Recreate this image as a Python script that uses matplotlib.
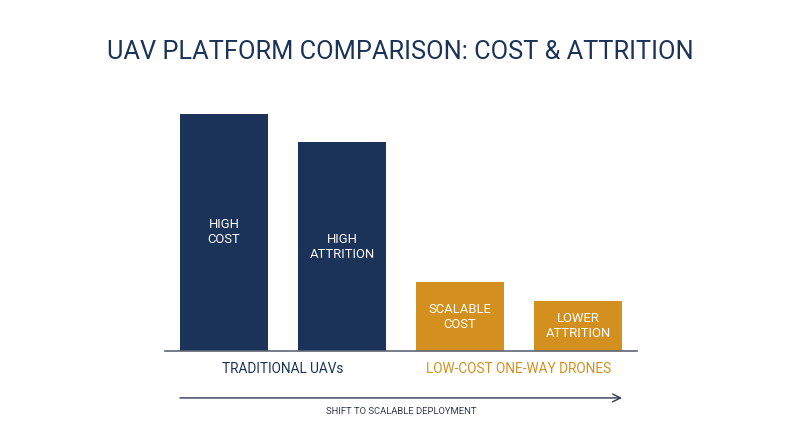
import matplotlib.pyplot as plt
import matplotlib.transforms as mtransforms

plt.rcParams['font.family'] = ['Roboto', 'DejaVu Sans']

# data
bar_labels = ['HIGH\nCOST', 'HIGH\nATTRITION', 'SCALABLE\nCOST', 'LOWER\nATTRITION']
values = [100, 88, 29, 21]
groups = ['TRADITIONAL UAVs', 'LOW-COST ONE-WAY DRONES']
group_of_bar = [0, 0, 1, 1]

navy = '#1b3358'
gold = '#d4901e'
group_colors = [navy, gold]

fig = plt.figure(figsize=(8, 4.47), dpi=100)
ax = fig.add_axes([165 / 800, 96 / 447, 472 / 800, 251 / 447])

xs = list(range(len(values)))
colors = [group_colors[g] for g in group_of_bar]
ax.bar(xs, values, width=0.746, color=colors, zorder=2)

for x, v, lab in zip(xs, values, bar_labels):
    ax.text(x, v / 2, lab, ha='center', va='center', color='white',
            fontsize=9.4, linespacing=1.2)

ax.set_xlim(-0.5, 3.5)
ax.set_ylim(0, 105.9)
for s in ['top', 'right', 'left']:
    ax.spines[s].set_visible(False)
ax.spines['bottom'].set_color('#5d6575')
ax.spines['bottom'].set_linewidth(1.2)
ax.set_xticks([])
ax.set_yticks([])

trans = mtransforms.blended_transform_factory(ax.transData, ax.transAxes)

# group labels under each pair of bars
for gi, name in enumerate(groups):
    members = [x for x, g in zip(xs, group_of_bar) if g == gi]
    cx = sum(members) / len(members)
    ax.text(cx, -0.072, name, transform=trans, ha='center', va='center',
            color=group_colors[gi], fontsize=9.8)

# arrow along the bottom
ax.annotate('', xy=(3.373, -0.187), xytext=(-0.373, -0.187),
            xycoords=trans, textcoords=trans, annotation_clip=False,
            arrowprops=dict(arrowstyle='->', color='#2e3a52', lw=1.0,
                            mutation_scale=14, shrinkA=0, shrinkB=0))
ax.text(1.5, -0.24, 'SHIFT TO SCALABLE DEPLOYMENT', transform=trans,
        ha='center', va='center', color='#333a48', fontsize=6.8)

fig.text(0.5, 1 - 52 / 447, 'UAV PLATFORM COMPARISON: COST & ATTRITION',
         ha='center', va='center', color=navy, fontsize=18.3)

fig.savefig('out.png', dpi=100, facecolor='white')
